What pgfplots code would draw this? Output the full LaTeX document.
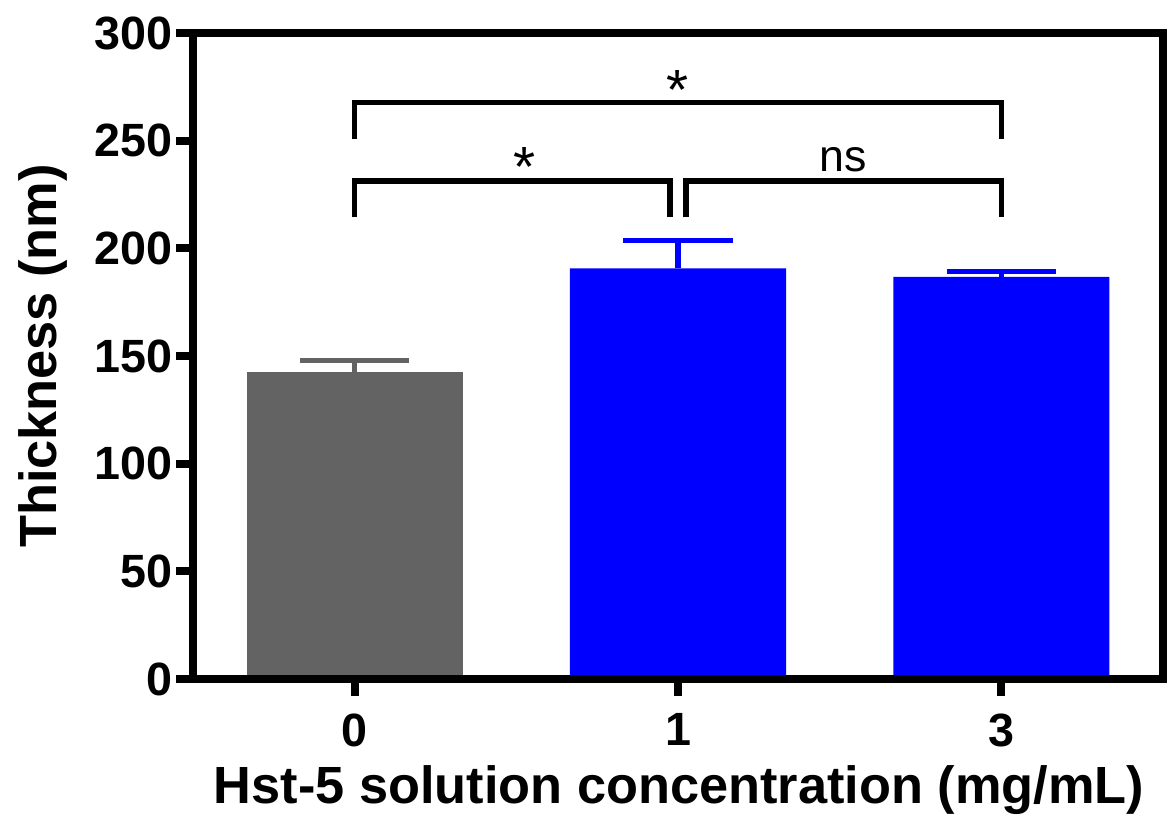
\documentclass[border=0pt]{standalone}
\usepackage{fontspec}
\setmainfont{Liberation Sans}
\setsansfont{Liberation Sans}
\usepackage{pgfplots}
\pgfplotsset{compat=1.18}
\definecolor{barGray}{RGB}{99,99,99}
\definecolor{barBlue}{RGB}{0,0,255}

\begin{document}
\begin{tikzpicture}
\begin{axis}[
    scale only axis,
    width=291pt, height=193.8pt,
    xmin=-0.5, xmax=2.5,
    ymin=0, ymax=300,
    ybar, bar width=64.8pt, bar shift=0pt,
    axis on top,
    axis line style={line width=2.4pt},
    tick style={black, line width=2.4pt},
    major tick length=5pt,
    tick align=outside, tick pos=left,
    xtick={0,1,2}, xticklabels={0,1,3},
    ytick={0,50,...,300},
    /pgf/number format/assume math mode=true,
    ticklabel style={font=\fontsize{14}{16}\selectfont\bfseries},
    yticklabel style={xshift=2.4pt},
    xticklabel style={yshift=-1.8pt},
    xlabel={Hst-5 solution concentration (mg/mL)},
    ylabel={Thickness (nm)},
    label style={font=\fontsize{15.7}{18}\selectfont\bfseries},
    xlabel style={at={(axis description cs:0.501,-0.172)}, anchor=center},
    ylabel style={at={(axis description cs:-0.1546,0.5)}, anchor=center},
]
    % 0 mg/mL (control)
    \addplot[fill=barGray, draw=none,
        error bars/.cd, y dir=plus, y explicit,
        error bar style={barGray, line width=1.6pt},
        error mark options={barGray, line width=1.6pt, mark size=16.35pt, rotate=90}]
        coordinates {(0,142.7) +- (0,5.1)};
    % 1 and 3 mg/mL
    \addplot[fill=barBlue, draw=none,
        error bars/.cd, y dir=plus, y explicit,
        error bar style={barBlue, line width=1.6pt},
        error mark options={barBlue, line width=1.6pt, mark size=16.35pt, rotate=90}]
        coordinates {(1,190.7) +- (0,12.8) (2,186.8) +- (0,2.3)};

    % significance brackets
    \draw[black, line width=1.7pt] (axis cs:0,214.4) -- (axis cs:0,231.4) -- (axis cs:0.976,231.4) -- (axis cs:0.976,214.4);
    \draw[black, line width=1.7pt] (axis cs:1.024,214.4) -- (axis cs:1.024,231.4) -- (axis cs:2,231.4) -- (axis cs:2,214.4);
    \draw[black, line width=1.7pt] (axis cs:0,250.6) -- (axis cs:0,267.7) -- (axis cs:2,267.7) -- (axis cs:2,250.6);
    \node[anchor=base, font=\fontsize{17}{19}\selectfont] at (axis cs:0.526,228.6) {*};
    \node[anchor=base, font=\fontsize{13.4}{16}\selectfont] at (axis cs:1.511,235.6) {ns};
    \node[anchor=base, font=\fontsize{17}{19}\selectfont] at (axis cs:1.0,264.5) {*};

    \coordinate (sw) at (rel axis cs:0,0);
    \coordinate (ne) at (rel axis cs:1,1);
\end{axis}
\path ([shift={(-57.9pt,-43.8pt)}]sw) rectangle ([shift={(1.2pt,9.9pt)}]ne);
\end{tikzpicture}
\end{document}
